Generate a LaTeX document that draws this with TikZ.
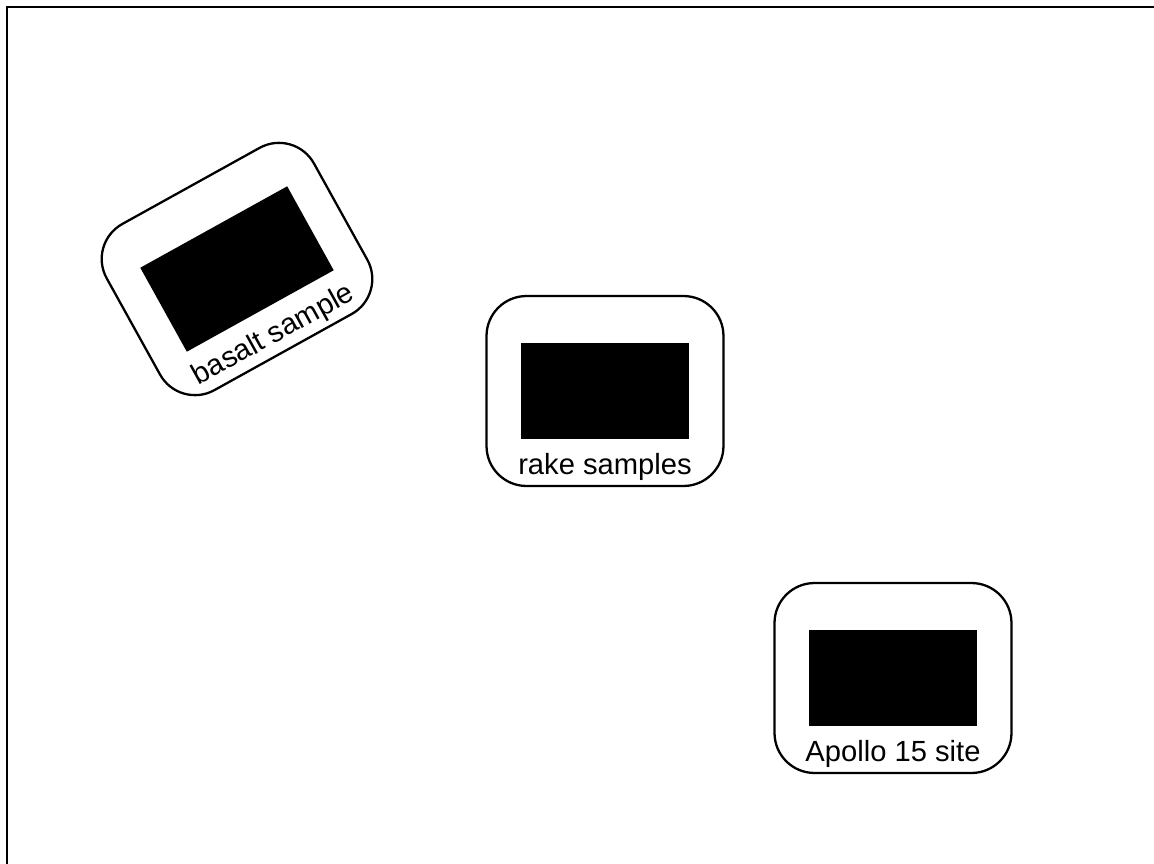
\documentclass[tikz,border=0pt]{standalone}
\usepackage{fontspec}
\setmainfont{Liberation Sans}
\usepackage{tikz}
\usetikzlibrary{positioning}

\begin{document}
\begin{tikzpicture}[x=0.02cm,y=-0.02cm,
  frame/.style={line width=1.7pt},
  card/.style={draw,line width=1.3pt,rounded corners=0.8cm,
               minimum width=4.74cm,minimum height=3.8cm,inner sep=0pt},
  img/.style={fill=black,minimum width=3.36cm,minimum height=1.92cm,inner sep=0pt},
  caption/.style={font=\fontsize{16.6}{19}\selectfont,inner sep=0pt}]
\useasboundingbox (0,0) rectangle (1154,863);
\draw[frame] (7,870) |- (1160,7);
% basalt sample, tilted
\begin{scope}[shift={(237,269)},rotate=29,transform shape]
\node[card] (basalt) at (0,0) {};
\node[img] (basaltimg) at (basalt.center) {};
\node[caption] (basaltcap) at (0,76) {basalt sample};
\end{scope}
% rake samples
\node[card] (rake) at (605,391) {};
\node[img] (rakeimg) at (rake.center) {};
\node[caption] (rakecap) at (605,467) {rake samples};
% Apollo 15 site
\node[card] (site) at (893,678) {};
\node[img] (siteimg) at (site.center) {};
\node[caption] (sitecap) at (893,754) {Apollo 15 site};
\end{tikzpicture}
\end{document}
